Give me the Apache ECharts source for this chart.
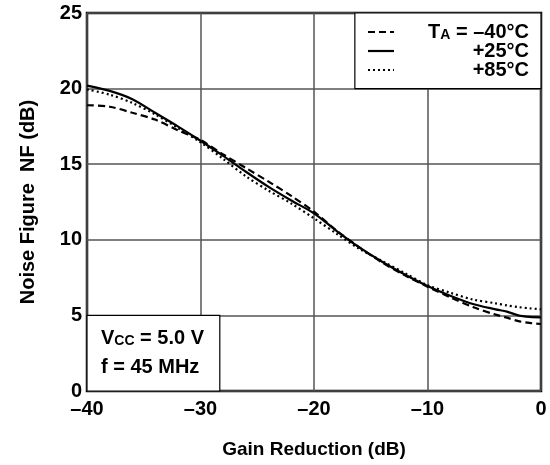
<!DOCTYPE html>
<html><head><meta charset="utf-8">
<script src="https://cdn.jsdelivr.net/npm/echarts@6/dist/echarts.min.js"></script>
<style>html,body{margin:0;padding:0;background:#fff}#c{width:550px;height:465px}</style>
</head><body><div id="c"></div>
<script>
// Gain reduction (dB)
const gainReduction = [-40,-38,-36,-34,-32,-30,-28,-26,-24,-22,-20,-18,-16,-14,-12,-10,-8,-6,-4,-3,-2,-1,0];
// Noise figure (dB) per temperature
const nfMinus40 = [18.9,18.8,18.4,17.95,17.25,16.6,15.65,14.75,13.85,12.9,11.86,10.6,9.5,8.5,7.65,6.9,6.2,5.55,5.05,4.85,4.62,4.5,4.43];
const nfPlus25  = [20.2,19.85,19.3,18.4,17.5,16.55,15.55,14.5,13.5,12.6,11.75,10.58,9.5,8.55,7.7,6.94,6.3,5.75,5.4,5.25,5.0,4.9,4.87];
const nfPlus85  = [19.95,19.6,19.05,18.3,17.4,16.45,15.35,14.2,13.25,12.4,11.42,10.4,9.4,8.6,7.8,7.0,6.5,6.05,5.8,5.66,5.55,5.47,5.4];
const legendLabels = ['T_A = –40°C', '+25°C', '+85°C'];
const xAxisName = 'Gain Reduction (dB)';
const yAxisName = 'Noise Figure  NF (dB)';

const FONT = '"Liberation Sans", Arial, Helvetica, sans-serif';
const pairs = arr => gainReduction.map((x, i) => [x, arr[i]]);

const chart = echarts.init(document.getElementById('c'), null, {renderer: 'canvas'});
const lineBase = {type: 'line', showSymbol: false, smooth: 0.3, animation: false, silent: true};
chart.setOption({
  animation: false,
  backgroundColor: '#fff',
  grid: {left: 87, top: 13, right: 9, bottom: 74, show: true, borderColor: '#000', borderWidth: 2.5, backgroundColor: 'transparent'},
  xAxis: {
    type: 'value', min: -40, max: 0, interval: 10,
    name: xAxisName, nameLocation: 'middle', nameGap: 49,
    nameTextStyle: {fontFamily: FONT, fontSize: 19, fontWeight: 'bold', color: '#000'},
    axisLine: {show: false}, axisTick: {show: false},
    axisLabel: {fontFamily: FONT, fontSize: 20, fontWeight: 'bold', color: '#000', margin: 8,
      formatter: v => String(v).replace('-', '–')},
    splitLine: {show: true, lineStyle: {color: '#555', width: 1.5}}
  },
  yAxis: {
    type: 'value', min: 0, max: 25, interval: 5,
    name: yAxisName, nameLocation: 'middle', nameGap: 49,
    nameTextStyle: {fontFamily: FONT, fontSize: 20, fontWeight: 'bold', color: '#000'},
    axisLine: {show: false}, axisTick: {show: false},
    axisLabel: {fontFamily: FONT, fontSize: 20, fontWeight: 'bold', color: '#000', margin: 5},
    splitLine: {show: true, lineStyle: {color: '#555', width: 1.5}}
  },
  series: [
    Object.assign({}, lineBase, {name: '-40', data: pairs(nfMinus40), z: 3,
      lineStyle: {color: '#000', width: 2.2, type: [7, 4]},
      markArea: {silent: true, z: 1,
        itemStyle: {color: '#fff', borderColor: '#000', borderWidth: 1.2},
        data: [
          [{coord: [-16.4, 20]}, {coord: [0, 25]}],
          [{coord: [-40, 0]}, {coord: [-28.3, 5]}]
        ]}
    }),
    Object.assign({}, lineBase, {name: '25', data: pairs(nfPlus25), z: 4,
      lineStyle: {color: '#000', width: 2.2, type: 'solid'}}),
    Object.assign({}, lineBase, {name: '85', data: pairs(nfPlus85), z: 3,
      lineStyle: {color: '#000', width: 2.2, type: [2, 3]}})
  ],
  graphic: [
    {type: 'line', shape: {x1: 368, y1: 32, x2: 394, y2: 32}, style: {stroke: '#000', lineWidth: 2.2, lineDash: [7, 4]}, z: 20},
    {type: 'line', shape: {x1: 368, y1: 51, x2: 394, y2: 51}, style: {stroke: '#000', lineWidth: 2.2}, z: 20},
    {type: 'line', shape: {x1: 368, y1: 70, x2: 394, y2: 70}, style: {stroke: '#000', lineWidth: 2.2, lineDash: [2, 3]}, z: 20},
    {type: 'text', x: 529, y: 32, z: 20, style: {
      text: '{b|T}{s|A}{b| = –40°C}', align: 'right', verticalAlign: 'middle',
      rich: {b: {fontFamily: FONT, fontSize: 20, fontWeight: 'bold', fill: '#000', verticalAlign: 'bottom'},
             s: {fontFamily: FONT, fontSize: 14, fontWeight: 'bold', fill: '#000', verticalAlign: 'bottom'}}}},
    {type: 'text', x: 529, y: 51, z: 20, style: {text: legendLabels[1], align: 'right', verticalAlign: 'middle',
      font: 'bold 20px ' + FONT, fill: '#000'}},
    {type: 'text', x: 529, y: 70, z: 20, style: {text: legendLabels[2], align: 'right', verticalAlign: 'middle',
      font: 'bold 20px ' + FONT, fill: '#000'}},
    {type: 'text', x: 101, y: 338, z: 20, style: {
      text: '{b|V}{s|CC}{b| = 5.0 V}', align: 'left', verticalAlign: 'middle',
      rich: {b: {fontFamily: FONT, fontSize: 20, fontWeight: 'bold', fill: '#000', verticalAlign: 'bottom'},
             s: {fontFamily: FONT, fontSize: 14, fontWeight: 'bold', fill: '#000', verticalAlign: 'bottom'}}}},
    {type: 'text', x: 101, y: 367, z: 20, style: {text: 'f = 45 MHz', align: 'left', verticalAlign: 'middle',
      font: 'bold 20px ' + FONT, fill: '#000'}}
  ]
});
</script></body></html>
